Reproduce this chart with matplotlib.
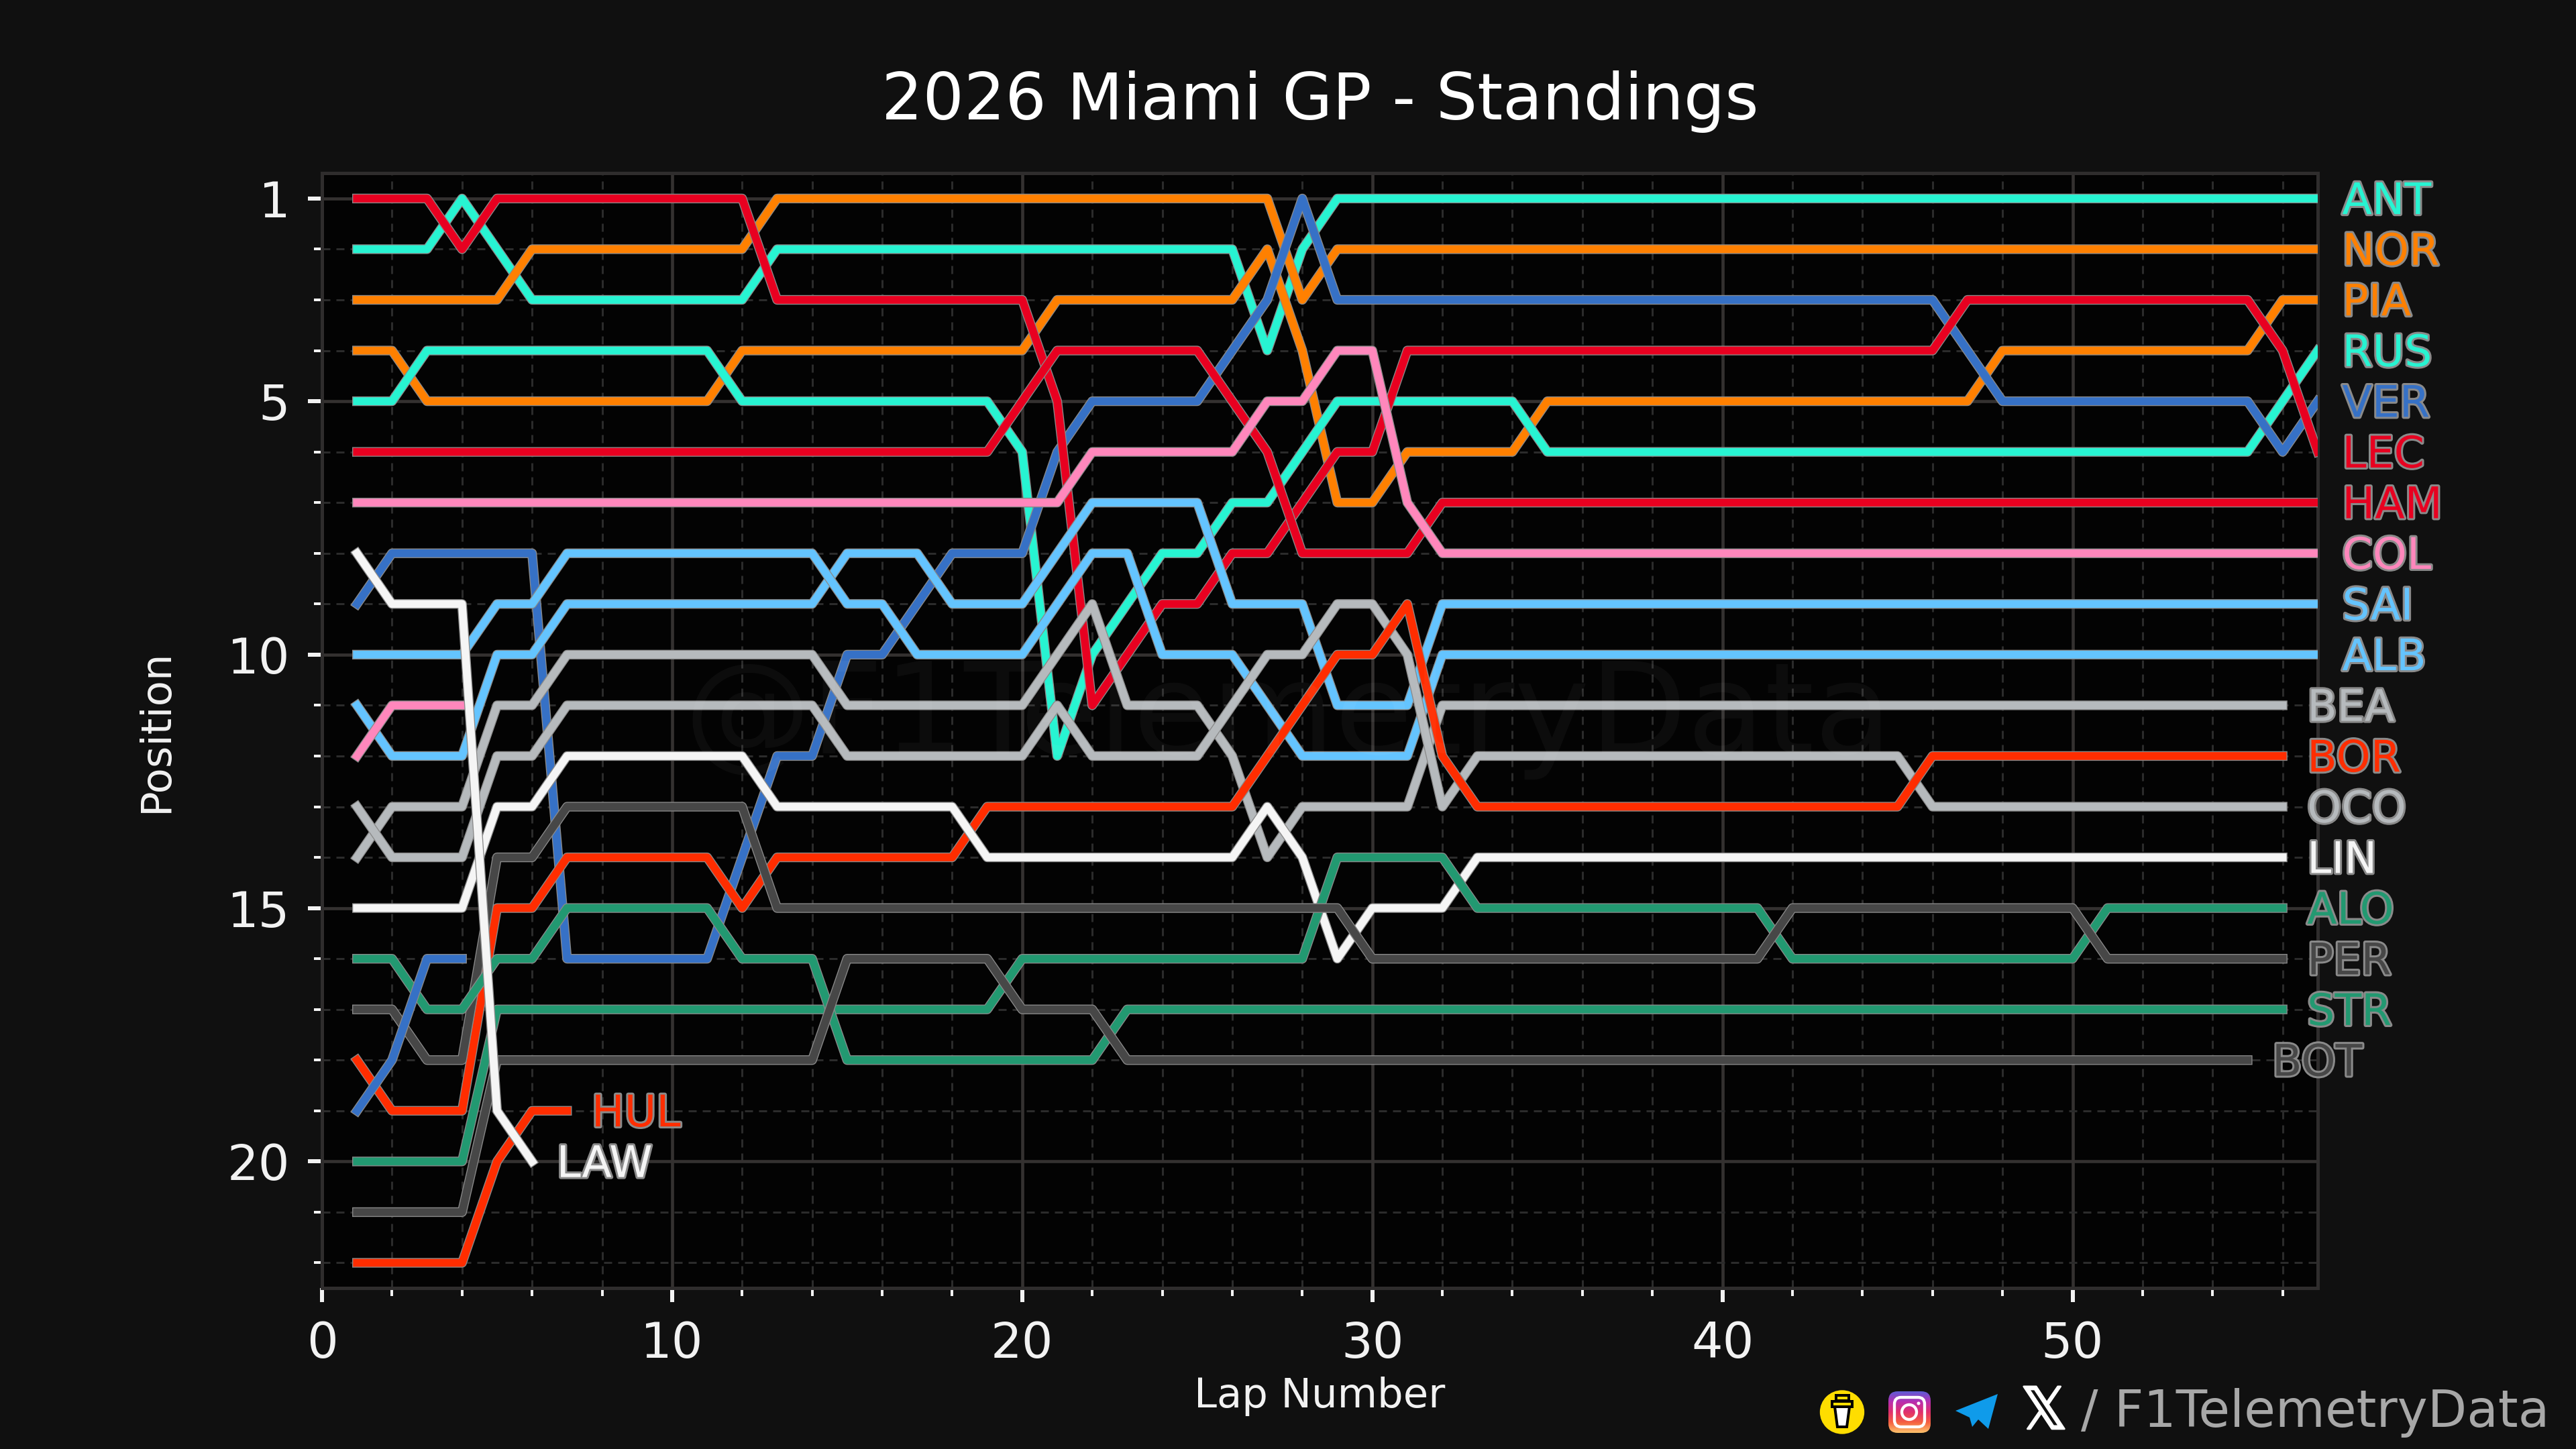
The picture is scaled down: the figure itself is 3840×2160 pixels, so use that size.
import numpy as np
import matplotlib
matplotlib.use("Agg")
import matplotlib.pyplot as plt
import matplotlib.patheffects as pe
from matplotlib.colors import LinearSegmentedColormap
from matplotlib.patches import Ellipse, FancyBboxPatch, Polygon, Rectangle
from matplotlib.ticker import FixedLocator, MultipleLocator

# Position per lap, first value is lap 1
ANT = [2,2,2,1,2,3,3,3,3,3, 3,3,2,2,2,2,2,2,2,2, 2,2,2,2,2,2,4,2,1,1,
       1,1,1,1,1,1,1,1,1,1, 1,1,1,1,1,1,1,1,1,1, 1,1,1,1,1,1,1]
NOR = [3,3,3,3,3,2,2,2,2,2, 2,2,1,1,1,1,1,1,1,1, 1,1,1,1,1,1,1,3,2,2,
       2,2,2,2,2,2,2,2,2,2, 2,2,2,2,2,2,2,2,2,2, 2,2,2,2,2,2,2]
PIA = [4,4,5,5,5,5,5,5,5,5, 5,4,4,4,4,4,4,4,4,4, 3,3,3,3,3,3,2,4,7,7,
       6,6,6,6,5,5,5,5,5,5, 5,5,5,5,5,5,5,4,4,4, 4,4,4,4,4,3,3]
RUS = [5,5,4,4,4,4,4,4,4,4, 4,5,5,5,5,5,5,5,5,6, 12,10,9,8,8,7,7,6,5,5,
       5,5,5,5,6,6,6,6,6,6, 6,6,6,6,6,6,6,6,6,6, 6,6,6,6,6,5,4]
VER = [9,8,8,8,8,8,16,16,16,16, 16,14,12,12,10,10,9,8,8,8, 6,5,5,5,5,4,3,1,3,3,
       3,3,3,3,3,3,3,3,3,3, 3,3,3,3,3,3,4,5,5,5, 5,5,5,5,5,6,5]
LEC = [1,1,1,2,1,1,1,1,1,1, 1,1,3,3,3,3,3,3,3,3, 5,11,10,9,9,8,8,7,6,6,
       4,4,4,4,4,4,4,4,4,4, 4,4,4,4,4,4,3,3,3,3, 3,3,3,3,3,4,6]
HAM = [6,6,6,6,6,6,6,6,6,6, 6,6,6,6,6,6,6,6,6,5, 4,4,4,4,4,5,6,8,8,8,
       8,7,7,7,7,7,7,7,7,7, 7,7,7,7,7,7,7,7,7,7, 7,7,7,7,7,7,7]
COL = [7,7,7,7,7,7,7,7,7,7, 7,7,7,7,7,7,7,7,7,7, 7,6,6,6,6,6,5,5,4,4,
       7,8,8,8,8,8,8,8,8,8, 8,8,8,8,8,8,8,8,8,8, 8,8,8,8,8,8,8]
SAI = [11,12,12,12,10,10,9,9,9,9, 9,9,9,9,8,8,8,9,9,9, 8,7,7,7,7,9,9,9,11,11,
       11,9,9,9,9,9,9,9,9,9, 9,9,9,9,9,9,9,9,9,9, 9,9,9,9,9,9,9]
ALB = [10,10,10,10,9,9,8,8,8,8, 8,8,8,8,9,9,10,10,10,10, 9,8,8,10,10,10,11,12,12,12,
       12,10,10,10,10,10,10,10,10,10, 10,10,10,10,10,10,10,10,10,10, 10,10,10,10,10,10,10]
BEA = [14,13,13,13,11,11,10,10,10,10, 10,10,10,10,11,11,11,11,11,11, 10,9,11,11,11,12,14,13,13,13,
       13,11,11,11,11,11,11,11,11,11, 11,11,11,11,11,11,11,11,11,11, 11,11,11,11,11,11]
OCO = [13,14,14,14,12,12,11,11,11,11, 11,11,11,11,12,12,12,12,12,12, 11,12,12,12,12,11,10,10,9,9,
       10,13,12,12,12,12,12,12,12,12, 12,12,12,12,12,13,13,13,13,13, 13,13,13,13,13,13]
BOR = [18,19,19,19,15,15,14,14,14,14, 14,15,14,14,14,14,14,14,13,13, 13,13,13,13,13,13,12,11,10,10,
       9,12,13,13,13,13,13,13,13,13, 13,13,13,13,13,12,12,12,12,12, 12,12,12,12,12,12]
LIN = [15,15,15,15,13,13,12,12,12,12, 12,12,13,13,13,13,13,13,14,14, 14,14,14,14,14,14,13,14,16,15,
       15,15,14,14,14,14,14,14,14,14, 14,14,14,14,14,14,14,14,14,14, 14,14,14,14,14,14]
ALO = [20,20,20,20,17,17,17,17,17,17, 17,17,17,17,17,17,17,17,17,16, 16,16,16,16,16,16,16,16,14,14,
       14,14,15,15,15,15,15,15,15,15, 15,16,16,16,16,16,16,16,16,16, 15,15,15,15,15,15]
PER = [17,17,18,18,14,14,13,13,13,13, 13,13,15,15,15,15,15,15,15,15, 15,15,15,15,15,15,15,15,15,16,
       16,16,16,16,16,16,16,16,16,16, 16,15,15,15,15,15,15,15,15,15, 16,16,16,16,16,16]
STR = [16,16,17,17,16,16,15,15,15,15, 15,16,16,16,18,18,18,18,18,18, 18,18,17,17,17,17,17,17,17,17,
       17,17,17,17,17,17,17,17,17,17, 17,17,17,17,17,17,17,17,17,17, 17,17,17,17,17,17]
BOT = [21,21,21,21,18,18,18,18,18,18, 18,18,18,18,16,16,16,16,16,17, 17,17,18,18,18,18,18,18,18,18,
       18,18,18,18,18,18,18,18,18,18, 18,18,18,18,18,18,18,18,18,18, 18,18,18,18,18]
GAS = [12,11,11,11]
HAD = [19,18,16,16]
HUL = [22,22,22,22,20,19,19]
LAW = [8,9,9,9,19,20]

# drawing order, later ones end up on top
drivers = [
    ("ANT", ANT, "#27F4D2", True),
    ("NOR", NOR, "#FF8000", True),
    ("PIA", PIA, "#FF8000", True),
    ("RUS", RUS, "#27F4D2", True),
    ("VER", VER, "#3671C6", True),
    ("LEC", LEC, "#E80020", True),
    ("HAM", HAM, "#E80020", True),
    ("COL", COL, "#FF87BC", True),
    ("SAI", SAI, "#64C4FF", True),
    ("ALB", ALB, "#64C4FF", True),
    ("BEA", BEA, "#B6BABD", True),
    ("OCO", OCO, "#B6BABD", True),
    ("BOR", BOR, "#FF2D00", True),
    ("LIN", LIN, "#F5F5F5", True),
    ("ALO", ALO, "#229971", True),
    ("PER", PER, "#474747", True),
    ("STR", STR, "#229971", True),
    ("BOT", BOT, "#474747", True),
    ("GAS", GAS, "#FF87BC", False),
    ("HAD", HAD, "#3671C6", False),
    ("HUL", HUL, "#FF2D00", True),
    ("LAW", LAW, "#F5F5F5", True),
]

y_major = [1, 5, 10, 15, 20]

fig = plt.figure(figsize=(16, 9), dpi=240, facecolor="#101010")
ax = fig.add_axes([0.125, 0.111, 0.7747, 0.7695], facecolor="#030303")

for name, pos, color, labelled in drivers:
    laps = np.arange(1, len(pos) + 1)
    ax.plot(laps, pos, color=color, lw=3.5, zorder=3, solid_capstyle="projecting",
            solid_joinstyle="round",
            path_effects=[pe.Stroke(linewidth=4.3, foreground="#8a8a8a"), pe.Normal()])
    if labelled:
        ax.text(laps[-1] + 0.7, pos[-1] + 0.07, name, color=color, fontsize=19.5, va="center",
                ha="left", zorder=5,
                path_effects=[pe.withStroke(linewidth=1.8, foreground="#8a8a8a")])

ax.set_xlim(0, 57)
ax.set_ylim(22.5, 0.5)
ax.xaxis.set_major_locator(MultipleLocator(10))
ax.xaxis.set_minor_locator(MultipleLocator(2))
ax.yaxis.set_major_locator(FixedLocator(y_major))
ax.yaxis.set_minor_locator(MultipleLocator(1))

ax.grid(which="major", color="#343130", lw=1.4, ls="-", zorder=1)
ax.grid(which="minor", color="#2b2b2b", lw=0.9, ls=(0, (4, 3)), zorder=1)
ax.set_axisbelow(True)
ax.tick_params(which="major", length=6.3, width=1.8, color="#f2f2f2", labelcolor="#f2f2f2",
               labelsize=22, pad=8)
ax.tick_params(which="minor", length=3.6, width=1.2, color="#f2f2f2")
for side in ax.spines.values():
    side.set_color("#2f2d2d")
    side.set_linewidth(1.5)

ax.set_title("2026 Miami GP - Standings", color="white", fontsize=29, pad=24)
ax.set_xlabel("Lap Number", color="#f2f2f2", fontsize=18.3)
ax.set_ylabel("Position", color="#f2f2f2", fontsize=18.8)
ax.xaxis.set_label_coords(0.5, -0.079)
ax.yaxis.set_label_coords(-0.073, 0.5)

fig.text(0.5, 1 - 1070 / 2160, "@F1TelemetryData", color="white", alpha=0.04, fontsize=56.7,
         ha="center", va="center", zorder=2)

# social icons bottom right, overlay axes works in image pixels
ov = fig.add_axes([0, 0, 1, 1], facecolor="none")
ov.set_axis_off()

ov.add_patch(Ellipse((2746, 2105), 63, 62, color="#FFDD00"))
ov.add_patch(Polygon([(2735, 2097), (2757, 2097), (2753, 2127), (2739, 2127)], closed=True,
                     fc="white", ec="black", lw=1.2))
ov.add_patch(Rectangle((2731, 2089), 30, 8, fc="#FFDD00", ec="black", lw=1.2))
ov.add_patch(Rectangle((2737, 2080), 19, 8, fc="#FFDD00", ec="black", lw=1.2))

insta_map = LinearSegmentedColormap.from_list(
    "insta", ["#5f5bd6", "#b92fb0", "#e1306c", "#f56040", "#fcc06a"])
img = ov.imshow(np.linspace(0, 1, 64).reshape(-1, 1), cmap=insta_map, aspect="auto",
                extent=(2815, 2878, 2136, 2074))
clip_outer = FancyBboxPatch((2815, 2074), 63, 62, boxstyle="round,pad=0,rounding_size=14",
                            fc="none", ec="none")
ov.add_patch(clip_outer)
img.set_clip_path(clip_outer)
ov.add_patch(FancyBboxPatch((2824, 2083), 45, 44, boxstyle="round,pad=0,rounding_size=10",
                            fc="none", ec="white", lw=1.3))
ov.add_patch(Ellipse((2846, 2105), 22, 22, fc="none", ec="white", lw=1.3))
ov.add_patch(Ellipse((2860, 2092), 5, 5, fc="white", ec="none"))

ov.add_patch(Polygon([(2978, 2078), (2915, 2103), (2936, 2113), (2940, 2127), (2949, 2116),
                      (2964, 2130)], closed=True, fc="#0F9BEA", ec="none"))

ov.text(3047, 2106, "\U0001D54F", color="white", fontsize=26, ha="center", va="center",
        family="DejaVu Sans",
        path_effects=[pe.withStroke(linewidth=0.8, foreground="white")])
ov.text(3102, 2106, "/ F1TelemetryData", color="#a8a8a8", fontsize=22.8, ha="left", va="center")

ov.set_xlim(0, 3840)
ov.set_ylim(2160, 0)

fig.savefig("out.png", dpi=240, facecolor=fig.get_facecolor())
